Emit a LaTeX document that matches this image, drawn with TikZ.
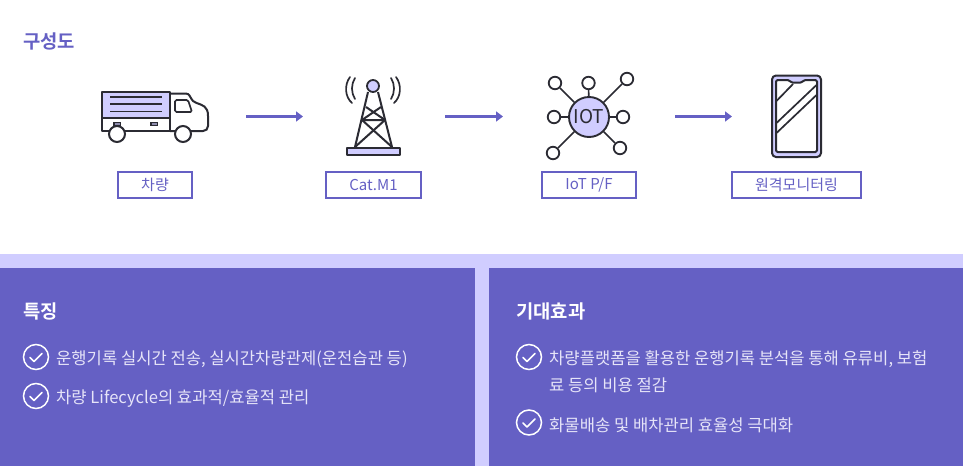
\documentclass[tikz,border=0pt]{standalone}
\usepackage{fontspec}
\setmainfont{Noto Sans CJK KR}
\newfontfamily\krb{Noto Sans CJK KR Bold}[BoldFont={Noto Sans CJK KR Bold}]
\usetikzlibrary{arrows.meta}
\definecolor{pur}{HTML}{6560C4}
\definecolor{lav}{HTML}{D0CDFF}
\definecolor{ink}{HTML}{2B2B33}
\definecolor{soft}{HTML}{E6E4F8}
\tikzset{
 icon/.style={draw=ink,line width=2pt,line join=round},
 thin icon/.style={draw=ink,line width=1.7pt},
 lab/.style={draw=pur,line width=1.5pt,text=pur,inner sep=0pt,minimum height=26pt,font=\fontsize{15}{17}\selectfont},
 flow/.style={draw=pur,line width=2.6pt,-{Triangle[length=7pt,width=10pt]}},
 panel/.style={fill=pur,draw=none},
 head/.style={anchor=west,text=white,inner sep=0pt,font=\krb\fontsize{18.8}{20}\selectfont},
 item/.style={anchor=west,text=soft,inner sep=0pt,font=\fontsize{16.6}{18}\selectfont},
 chk/.style={circle,draw=white,line width=1.5pt,minimum size=25pt,inner sep=0pt},
 checkmark/.style={draw=white,line width=1.5pt,line cap=round,line join=round},
 sat/.style={circle,draw=ink,line width=1.8pt,fill=white,minimum size=12.5pt,inner sep=0pt},
 wheel/.style={circle,draw=ink,line width=2pt,fill=white,minimum size=16pt,inner sep=0pt},
}
\newcommand{\tick}[1]{\draw[checkmark] ([shift={(-6,0.5)}]#1.center) -- ++(4,4) -- ++(8,-8);}
\begin{document}
\begin{tikzpicture}[x=1pt,y=-1pt]
\useasboundingbox (0,0) rectangle (963,466);
\fill[white] (0,0) rectangle (963,466);
\node[anchor=west,text=pur,inner sep=0pt,font=\krb\fontsize{18.8}{20}\selectfont] (title) at (23,41) {구성도};
% truck
\fill[lav] (102,91.5) rectangle (170,118);
\draw[icon] (102,91.5) rectangle (170,131);
\draw[icon] (102,118) -- (170,118);
\foreach \y in {97,104,111.5}\draw[thin icon] (110,\y) -- (162,\y);
\draw[icon] (170,93.5) -- (186,93.5) .. controls (190,93.5) and (190,98) .. (193,101) .. controls (196,104) and (205,104) .. (207,110) .. controls (208,112) and (208,114) .. (208,116) -- (208,126) .. controls (208,129) and (206,131) .. (203,131) -- (170,131);
\draw[thin icon,rounded corners=1.5pt] (175,112) -- (175,100) -- (188,100) -- (192,112) -- cycle;
\fill[ink] (113,122) rectangle (121,126);
\fill[ink] (150,122) rectangle (158,126);
\fill[lav!60!ink] (114.5,123.2) rectangle (119.5,124.8);
\fill[lav!60!ink] (151.5,123.2) rectangle (156.5,124.8);
\node[wheel] (w1) at (117,134) {};
\node[wheel] (w2) at (183,134) {};
% tower
\draw[icon] (368,92) -- (355,147) (378,92) -- (392,147);
\draw[icon] (366,107) -- (385,120) -- (355,147) (381,107) -- (362,120) -- (392,147) (362,120) -- (385,120);
\draw[icon,fill=lav] (347,147.5) rectangle (399.5,155);
\node[circle,draw=ink,line width=1.8pt,fill=lav,minimum size=12pt,inner sep=0pt] (top) at (373,86) {};
\draw[thin icon,line cap=round] (355,78) .. controls (351,84) and (351,93) .. (355,99);
\draw[thin icon,line cap=round] (350,77) .. controls (344,85) and (345,97) .. (352,103);
\draw[thin icon,line cap=round] (391,78) .. controls (395,84) and (395,93) .. (391,99);
\draw[thin icon,line cap=round] (396,77) .. controls (402,85) and (401,97) .. (394,103);
% iot
\node[circle,draw=ink,line width=1.9pt,fill=lav,minimum size=40pt,inner sep=0pt,text=ink,font=\fontsize{19}{20}\selectfont] (hub) at (589,117) {IOT};
\foreach \n/\p in {a/{555,83},b/{588.5,83},c/{627,79},d/{554,117},e/{623,117},f/{553,153},g/{620,148}}{
 \node[sat] (\n) at (\p) {};
 \draw[icon,line width=1.7pt] (hub) -- (\n);
}
% phone
\draw[icon,fill=lav,rounded corners=4pt] (772,75.5) rectangle (821,157);
\draw[icon,fill=white,rounded corners=1.5pt] (776,80) -- (789,80) -- (791,82.5) -- (802,82.5) -- (804,80) -- (817,80) -- (817,152) -- (776,152) -- cycle;
\draw[thin icon] (776.5,101) -- (793,84) (776.5,123) -- (816.5,85) (776.5,133) -- (816.5,95);
% labels
\node[lab,minimum width=74pt] (l1) at (155,185) {차량};
\node[lab,minimum width=95pt] (l2) at (373.5,185) {Cat.M1};
\node[lab,minimum width=94pt] (l3) at (589,185) {IoT P/F};
\node[lab,minimum width=129pt] (l4) at (796.5,185) {원격모니터링};
% arrows
\coordinate (a1s) at (246,116.5); \coordinate (a1e) at (303,116.5);
\coordinate (a2s) at (445,116.5); \coordinate (a2e) at (503,116.5);
\coordinate (a3s) at (675,116.5); \coordinate (a3e) at (732,116.5);
\draw[flow] (a1s) -- (a1e);
\draw[flow] (a2s) -- (a2e);
\draw[flow] (a3s) -- (a3e);
% panels
\fill[lav] (0,254) rectangle (963,466);
\fill[panel] (0,268) rectangle (475,466);
\fill[panel] (489,268) rectangle (963,466);
\node[head] (h1) at (23,311) {특징};
\node[head] (h2) at (516,311) {기대효과};
\node[chk] (c1) at (36,357) {}; \tick{c1}
\node[chk] (c2) at (36,396) {}; \tick{c2}
\node[chk] (c3) at (529,357) {}; \tick{c3}
\node[chk] (c4) at (529,422.5) {}; \tick{c4}
\node[item] (t1) at (56,359) {운행기록 실시간 전송, 실시간차량관제(운전습관 등)};
\node[item] (t2) at (56,398.5) {차량 Lifecycle의 효과적/효율적 관리};
\node[item] (t3) at (549,359) {차량플랫폼을 활용한 운행기록 분석을 통해 유류비, 보험};
\node[item] (t3b) at (549,385) {료 등의 비용 절감};
\node[item] (t4) at (549,425) {화물배송 및 배차관리 효율성 극대화};
\end{tikzpicture}
\end{document}
